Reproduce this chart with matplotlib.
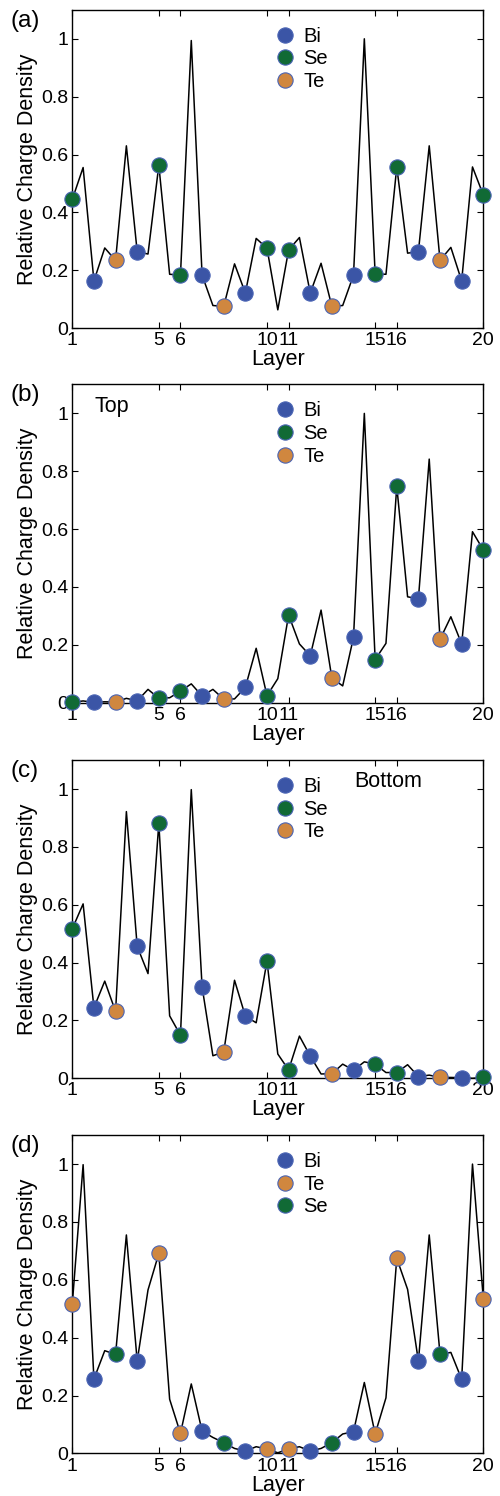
import numpy as np
import matplotlib.pyplot as plt

plt.rcParams['font.family'] = ['Liberation Sans', 'DejaVu Sans']

# layer grid: line sampled every half layer, atoms sit on the integer layers
layers = np.arange(1, 20.5, 0.5)

dens_a = [0.445, 0.555, 0.163, 0.277, 0.234, 0.630, 0.264, 0.256, 0.563, 0.186,
          0.183, 0.994, 0.183, 0.078, 0.075, 0.222, 0.121, 0.310, 0.276, 0.063,
          0.270, 0.313, 0.121, 0.224, 0.075, 0.078, 0.183, 1.000, 0.187, 0.186,
          0.557, 0.259, 0.264, 0.630, 0.234, 0.279, 0.163, 0.557, 0.460]

dens_b = [0.001, 0.006, 0.001, 0.003, 0.002, 0.015, 0.006, 0.046, 0.015, 0.017,
          0.040, 0.065, 0.023, 0.046, 0.012, 0.013, 0.053, 0.188, 0.024, 0.083,
          0.303, 0.203, 0.162, 0.320, 0.085, 0.058, 0.226, 1.000, 0.149, 0.205,
          0.748, 0.366, 0.359, 0.842, 0.219, 0.297, 0.203, 0.591, 0.528]

dens_c = [0.517, 0.603, 0.244, 0.336, 0.231, 0.922, 0.456, 0.362, 0.882, 0.216,
          0.149, 0.998, 0.316, 0.078, 0.091, 0.339, 0.215, 0.192, 0.405, 0.084,
          0.029, 0.146, 0.077, 0.015, 0.016, 0.049, 0.028, 0.057, 0.049, 0.020,
          0.020, 0.047, 0.006, 0.011, 0.003, 0.003, 0.002, 0.000, 0.003]

dens_d = [0.517, 0.998, 0.257, 0.355, 0.342, 0.755, 0.319, 0.565, 0.691, 0.187,
          0.069, 0.240, 0.077, 0.055, 0.037, 0.017, 0.008, 0.023, 0.015, 0.002,
          0.015, 0.023, 0.008, 0.017, 0.037, 0.067, 0.075, 0.245, 0.067, 0.192,
          0.674, 0.567, 0.319, 0.755, 0.342, 0.349, 0.256, 1.000, 0.535]

# atom species per layer (quintuple layers)
ql_se = ['Se', 'Bi', 'Te', 'Bi', 'Se'] * 4
ql_te = ['Te', 'Bi', 'Se', 'Bi', 'Te'] * 4

colors = {'Bi': '#3b55a6', 'Se': '#116a35', 'Te': '#d0873f'}

panels = [
    ('(a)', dens_a, ql_se, ['Bi', 'Se', 'Te'], None),
    ('(b)', dens_b, ql_se, ['Bi', 'Se', 'Te'], 'Top'),
    ('(c)', dens_c, ql_se, ['Bi', 'Se', 'Te'], 'Bottom'),
    ('(d)', dens_d, ql_te, ['Bi', 'Te', 'Se'], None),
]

bottoms = [0.7807, 0.5303, 0.2792, 0.0285]

fig = plt.figure(figsize=(5, 14.96), dpi=100)

for (tag, dens, species, order, note), b in zip(panels, bottoms):
    ax = fig.add_axes([0.1446, b, 0.822, 0.2127])
    dens = np.array(dens)
    ax.plot(layers, dens, color='k', lw=1.1, zorder=2)

    atom_x = layers[::2]
    atom_y = dens[::2]
    for el in order:
        idx = [i for i, s in enumerate(species) if s == el]
        ax.plot(atom_x[idx], atom_y[idx], 'o', ls='none', ms=11,
                mfc=colors[el], mec='#4a64b4', mew=0.8, label=el,
                zorder=3, clip_on=False)

    ax.set_xlim(1, 20)
    ax.set_ylim(0, 1.1)
    ax.set_xticks([1, 5, 6, 10, 11, 15, 16, 20])
    ax.set_xticklabels(['1', '5', '6', '10', '11', '15', '16', '20'])
    ax.set_yticks([0, 0.2, 0.4, 0.6, 0.8, 1.0])
    ax.set_yticklabels(['0', '0.2', '0.4', '0.6', '0.8', '1'])
    ax.tick_params(direction='in', top=True, right=True, length=4,
                   width=0.8, labelsize=14, pad=3)
    for sp in ax.spines.values():
        sp.set_linewidth(1.0)
    ax.set_xlabel('Layer', fontsize=15.5, labelpad=0)
    ax.set_ylabel('Relative Charge Density', fontsize=15.5, labelpad=2)

    ax.legend(loc='upper left', bbox_to_anchor=(0.45, 0.985), frameon=False,
              fontsize=14.5, handletextpad=0.1, labelspacing=0.18,
              borderaxespad=0.2, handlelength=1.6)

    ax.text(-0.15, 1.0, tag, transform=ax.transAxes, fontsize=17.5,
            ha='left', va='top')
    if note == 'Top':
        ax.text(0.055, 0.965, note, transform=ax.transAxes, fontsize=15.5,
                ha='left', va='top')
    elif note == 'Bottom':
        ax.text(0.685, 0.965, note, transform=ax.transAxes, fontsize=15.5,
                ha='left', va='top')

fig.savefig('out.png', dpi=100)
